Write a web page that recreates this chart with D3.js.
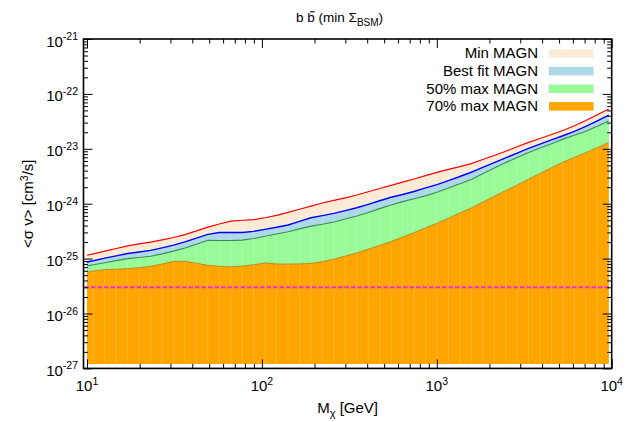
<!DOCTYPE html>
<html><head><meta charset="utf-8">
<script src="https://cdn.jsdelivr.net/npm/d3@7"></script>
<style>
body{margin:0;background:#fff}
svg{display:block}
text{font-family:"Liberation Sans",Arial,Helvetica,sans-serif;fill:#000}
</style>
</head><body>
<svg id="c" width="634" height="422"></svg>
<script>
// ---- data ----
const masses = [10, 10.87, 12.63, 14.69, 17.08, 19.86, 23.10, 26.85, 31.22, 36.30, 42.21, 49.09, 57.07, 66.36, 77.16, 89.72, 104.3, 121.3, 141.1, 164.0, 190.7, 221.8, 257.8, 299.8, 348.6, 405.4, 471.4, 548.0, 637.2, 740.9, 861.5, 1002, 1165, 1354, 1575, 1831, 2129, 2475, 2878, 3347, 3892, 4525, 5262, 6118, 7114, 8272, 9618];
const minMAGN = [1.15e-25, 1.22e-25, 1.37e-25, 1.53e-25, 1.71e-25, 1.85e-25, 1.99e-25, 2.19e-25, 2.42e-25, 2.73e-25, 3.20e-25, 3.75e-25, 4.26e-25, 4.81e-25, 5.00e-25, 5.12e-25, 5.55e-25, 6.14e-25, 6.93e-25, 7.93e-25, 9.03e-25, 1.03e-24, 1.15e-24, 1.28e-24, 1.44e-24, 1.65e-24, 1.89e-24, 2.16e-24, 2.47e-24, 2.82e-24, 3.24e-24, 3.72e-24, 4.21e-24, 4.73e-24, 5.37e-24, 6.37e-24, 7.54e-24, 9.03e-24, 1.09e-23, 1.31e-23, 1.54e-23, 1.82e-23, 2.15e-23, 2.63e-23, 3.28e-23, 4.17e-23, 5.30e-23];
const bestFitMAGN = [8.67e-26, 9.15e-26, 1.02e-25, 1.12e-25, 1.24e-25, 1.32e-25, 1.41e-25, 1.57e-25, 1.76e-25, 2.01e-25, 2.36e-25, 2.76e-25, 2.98e-25, 2.98e-25, 2.98e-25, 3.13e-25, 3.41e-25, 3.72e-25, 4.10e-25, 4.75e-25, 5.55e-25, 6.06e-25, 6.67e-25, 7.50e-25, 8.45e-25, 9.74e-25, 1.13e-24, 1.31e-24, 1.47e-24, 1.67e-24, 1.94e-24, 2.23e-24, 2.63e-24, 3.13e-24, 3.74e-24, 4.57e-24, 5.60e-24, 6.84e-24, 8.34e-24, 1.02e-23, 1.22e-23, 1.45e-23, 1.73e-23, 2.07e-23, 2.55e-23, 3.24e-23, 4.12e-23];
const max50MAGN = [7.33e-26, 7.71e-26, 8.42e-26, 9.20e-26, 1.00e-25, 1.05e-25, 1.10e-25, 1.22e-25, 1.37e-25, 1.56e-25, 1.83e-25, 2.15e-25, 2.14e-25, 2.13e-25, 2.17e-25, 2.32e-25, 2.55e-25, 2.81e-25, 3.09e-25, 3.48e-25, 3.90e-25, 4.22e-25, 4.65e-25, 5.25e-25, 5.96e-25, 6.90e-25, 8.13e-25, 9.50e-25, 1.09e-24, 1.23e-24, 1.39e-24, 1.62e-24, 1.93e-24, 2.30e-24, 2.75e-24, 3.51e-24, 4.46e-24, 5.60e-24, 6.93e-24, 8.59e-24, 1.03e-23, 1.24e-23, 1.50e-23, 1.77e-23, 2.09e-23, 2.58e-23, 3.20e-23];
const max70MAGN = [5.62e-26, 5.92e-26, 6.28e-26, 6.41e-26, 6.55e-26, 6.85e-26, 7.21e-26, 7.97e-26, 8.93e-26, 8.93e-26, 8.21e-26, 7.55e-26, 7.24e-26, 7.08e-26, 7.30e-26, 7.74e-26, 8.31e-26, 7.97e-26, 7.94e-26, 8.00e-26, 8.14e-26, 8.81e-26, 9.75e-26, 1.11e-25, 1.27e-25, 1.48e-25, 1.74e-25, 2.04e-25, 2.47e-25, 2.97e-25, 3.61e-25, 4.40e-25, 5.43e-25, 6.76e-25, 8.37e-25, 1.07e-24, 1.36e-24, 1.73e-24, 2.19e-24, 2.80e-24, 3.56e-24, 4.52e-24, 5.69e-24, 6.96e-24, 8.51e-24, 1.05e-23, 1.30e-23];
const relicValue = 3e-26;
const fillBase = 1.2e-27;
const seriesNames = ["Min MAGN", "Best fit MAGN", "50% max MAGN", "70% max MAGN"];
const xMajorTicks = [10, 100, 1000, 10000];
const xTickExponents = ["1", "2", "3", "4"];
const yMajorTicks = [1e-27, 1e-26, 1e-25, 1e-24, 1e-23, 1e-22, 1e-21];
const yTickExponents = ["-27", "-26", "-25", "-24", "-23", "-22", "-21"];
const xMinorTicks = [20,30,40,50,60,70,80,90,200,300,400,500,600,700,800,900,2000,3000,4000,5000,6000,7000,8000,9000];
const yMinorTicks = [];
[1e-27,1e-26,1e-25,1e-24,1e-23,1e-22].forEach(d => [2,3,4,5,6,7,8,9].forEach(k => yMinorTicks.push(k*d)));

// ---- layout ----
const F = {l: 83.5, r: 611.7, t: 39, b: 368.4};
const svg = d3.select("#c");
const x = d3.scaleLog().domain([9.55, 1e4]).range([F.l, F.r]);
const y = d3.scaleLog().domain([1e-27, 1e-21]).range([F.b, F.t]);

const styles = [
  {vals: minMAGN,     fill: "#faebd7", stroke: "#ff0000", sw: 1.2},
  {vals: bestFitMAGN, fill: "#add8e6", stroke: "#0000ff", sw: 1.4},
  {vals: max50MAGN,   fill: "#98fb98", stroke: "#3c8c5c", sw: 1.1},
  {vals: max70MAGN,   fill: "#ffa500", stroke: "#bf8c1c", sw: 1.0}
];

const area = vals => d3.area()
  .x((d, i) => x(masses[i]))
  .y0(y(fillBase))
  .y1(d => y(d))(vals);
const line = vals => d3.line()
  .x((d, i) => x(masses[i]))
  .y(d => y(d))(vals);

const plot = svg.append("g");
styles.forEach(s => plot.append("path").attr("d", area(s.vals)).attr("fill", s.fill));

// faint seams between filled segments
plot.append("g").selectAll("line")
  .data(masses.slice(1, -1))
  .join("line")
  .attr("x1", d => x(d)).attr("x2", d => x(d))
  .attr("y1", y(fillBase)).attr("y2", (d, i) => y(minMAGN[i + 1]))
  .attr("stroke", "#fff").attr("stroke-opacity", 0.22).attr("stroke-width", 0.8);

styles.forEach(s => plot.append("path").attr("d", line(s.vals))
  .attr("fill", "none").attr("stroke", s.stroke).attr("stroke-width", s.sw));

// relic line
plot.append("line")
  .attr("x1", F.l + 1).attr("x2", F.r - 1)
  .attr("y1", y(relicValue)).attr("y2", y(relicValue))
  .attr("stroke", "#f22ed2").attr("stroke-width", 2)
  .attr("stroke-dasharray", "4.5,2");

// ---- axes (ticks inward, mirrored) ----
function ticks(axis, tr) {
  const g = svg.append("g").attr("transform", tr).call(axis);
  g.select(".domain").remove();
  g.selectAll(".tick line").attr("stroke", "#000").attr("stroke-width", 1);
  g.selectAll(".tick text").remove();
  return g;
}
ticks(d3.axisBottom(x).tickValues(xMinorTicks).tickSize(-4.5), `translate(0,${F.b})`);
ticks(d3.axisBottom(x).tickValues(xMajorTicks).tickSize(-9), `translate(0,${F.b})`);
ticks(d3.axisTop(x).tickValues(xMinorTicks).tickSize(-4.5), `translate(0,${F.t})`);
ticks(d3.axisTop(x).tickValues(xMajorTicks).tickSize(-9), `translate(0,${F.t})`);
ticks(d3.axisLeft(y).tickValues(yMinorTicks).tickSize(-4.5), `translate(${F.l},0)`);
ticks(d3.axisLeft(y).tickValues(yMajorTicks).tickSize(-9), `translate(${F.l},0)`);
ticks(d3.axisRight(y).tickValues(yMinorTicks).tickSize(-4.5), `translate(${F.r},0)`);
ticks(d3.axisRight(y).tickValues(yMajorTicks).tickSize(-9), `translate(${F.r},0)`);

svg.append("rect").attr("x", F.l).attr("y", F.t)
  .attr("width", F.r - F.l).attr("height", F.b - F.t)
  .attr("fill", "none").attr("stroke", "#000").attr("stroke-width", 1.6);

// tick labels
xMajorTicks.forEach((v, i) => {
  const t = svg.append("text").attr("x", x(v)).attr("y", 391)
    .attr("text-anchor", "middle").style("font-size", "15px");
  t.append("tspan").text("10");
  t.append("tspan").attr("dy", -6).style("font-size", "10.5px").text(xTickExponents[i]);
});
yMajorTicks.forEach((v, i) => {
  const t = svg.append("text").attr("x", 78).attr("y", y(v) + 7.5)
    .attr("text-anchor", "end").style("font-size", "15px");
  t.append("tspan").text("10");
  t.append("tspan").attr("dy", -6.5).style("font-size", "10.5px").text(yTickExponents[i]);
});

// axis titles
const xl = svg.append("text").attr("x", (F.l + F.r) / 2).attr("y", 413)
  .attr("text-anchor", "middle").style("font-size", "15px");
xl.append("tspan").text("M");
xl.append("tspan").attr("dy", 4).style("font-size", "11px").text("χ");
xl.append("tspan").attr("dy", -4).text(" [GeV]");

const yl = svg.append("text").attr("transform", `translate(33,${(F.t + F.b) / 2}) rotate(-90)`)
  .attr("text-anchor", "middle").style("font-size", "15px");
yl.append("tspan").text("<σ v> [cm");
yl.append("tspan").attr("dy", -5).style("font-size", "10.5px").text("3");
yl.append("tspan").attr("dy", 5).text("/s]");

// title
const tt = svg.append("text").attr("x", 296).attr("y", 21.5).style("font-size", "13.5px");
tt.append("tspan").text("b ");
tt.append("tspan").text("b");
tt.append("tspan").text(" (min Σ");
tt.append("tspan").attr("dy", 4).style("font-size", "10px").text("BSM");
tt.append("tspan").attr("dy", -4).text(")");
let bx0 = 306.5, bx1 = 314;
try {
  const n = tt.node();
  bx0 = n.getStartPositionOfChar(2).x;
  bx1 = n.getEndPositionOfChar(2).x;
} catch (e) {}
svg.append("line").attr("x1", bx0 + 2.8).attr("x2", bx1 - 0.2).attr("y1", 11.8).attr("y2", 11.8)
  .attr("stroke", "#000").attr("stroke-width", 1.1);

// legend
const legend = svg.append("g");
seriesNames.forEach((name, i) => {
  const by = 58.3 + i * 17.6;
  legend.append("text").attr("x", 538).attr("y", by).attr("text-anchor", "end")
    .style("font-size", "15px").text(name);
  legend.append("rect").attr("x", 549).attr("y", by - 9).attr("width", 44.5).attr("height", 8.5)
    .attr("fill", styles[i].fill);
});
</script>
</body></html>
